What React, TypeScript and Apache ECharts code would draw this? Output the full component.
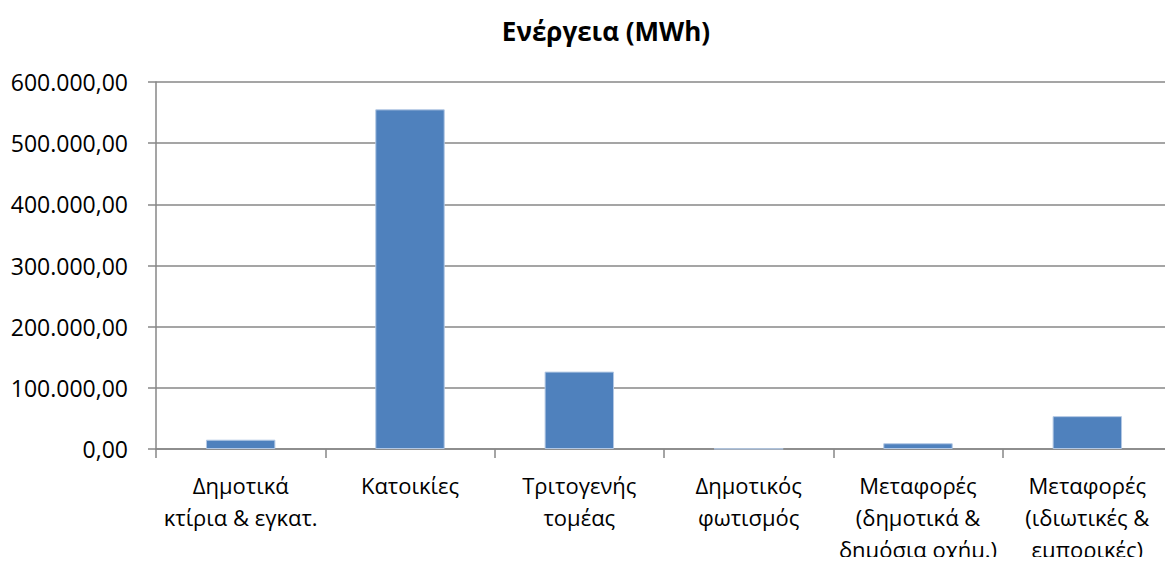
import React, { useEffect, useRef } from "react";
import * as echarts from "echarts";

const categories = [
  "Δημοτικά\nκτίρια & εγκατ.",
  "Κατοικίες",
  "Τριτογενής\nτομέας",
  "Δημοτικός\nφωτισμός",
  "Μεταφορές\n(δημοτικά &\nδημόσια οχήμ.)",
  "Μεταφορές\n(ιδιωτικές &\nεμπορικές)",
];
const energyValues = [15200, 555300, 126500, 500, 9400, 53700];
const yMin = 0;
const yMax = 600000;
const yInterval = 100000;

function fmt(v: number): string {
  const neg = v < 0;
  const s = Math.round(Math.abs(v)).toString().replace(/\B(?=(\d{3})+(?!\d))/g, ".");
  return (neg ? "-" : "") + s + ",00";
}

export default function App() {
  const ref = useRef<HTMLDivElement>(null);
  useEffect(() => {
    if (!ref.current) return;
    const chart = echarts.init(ref.current, undefined, { renderer: "svg" });
    const font = "'Open Sans', 'Noto Sans', sans-serif";
    chart.setOption({
      animation: false,
      backgroundColor: "#ffffff",
      title: {
        text: "Ενέργεια (MWh)",
        left: 601,
        textAlign: "center",
        top: 13,
        textStyle: { fontFamily: font, fontSize: 26, fontWeight: "bold", color: "#000" },
      },
      grid: { left: 156, right: 1, top: 82, bottom: 112 },
      xAxis: {
        type: "category",
        data: categories,
        axisLine: { lineStyle: { color: "#878787", width: 1.5 } },
        axisTick: { show: true, length: 9, lineStyle: { color: "#878787", width: 1.5 } },
        axisLabel: { interval: 0, margin: 20, fontFamily: font, fontSize: 22, lineHeight: 32, color: "#000" },
      },
      yAxis: {
        type: "value",
        min: yMin,
        max: yMax,
        interval: yInterval,
        axisLine: { show: true, lineStyle: { color: "#878787", width: 1.5 } },
        axisTick: { show: true, length: 8, lineStyle: { color: "#878787", width: 1.5 } },
        splitLine: { lineStyle: { color: "#878787", width: 1.5 } },
        axisLabel: { margin: 28, fontFamily: font, fontSize: 23, color: "#000", formatter: (v: number) => fmt(v) },
      },
      series: [
        {
          type: "bar",
          data: energyValues,
          barCategoryGap: "59%",
          itemStyle: { color: "#4F81BD", borderColor: "#B3C8E4", borderWidth: 1 },
        },
      ],
    });
    return () => chart.dispose();
  }, []);
  return <div ref={ref} style={{ width: 1173, height: 565, margin: -8 }} />;
}
